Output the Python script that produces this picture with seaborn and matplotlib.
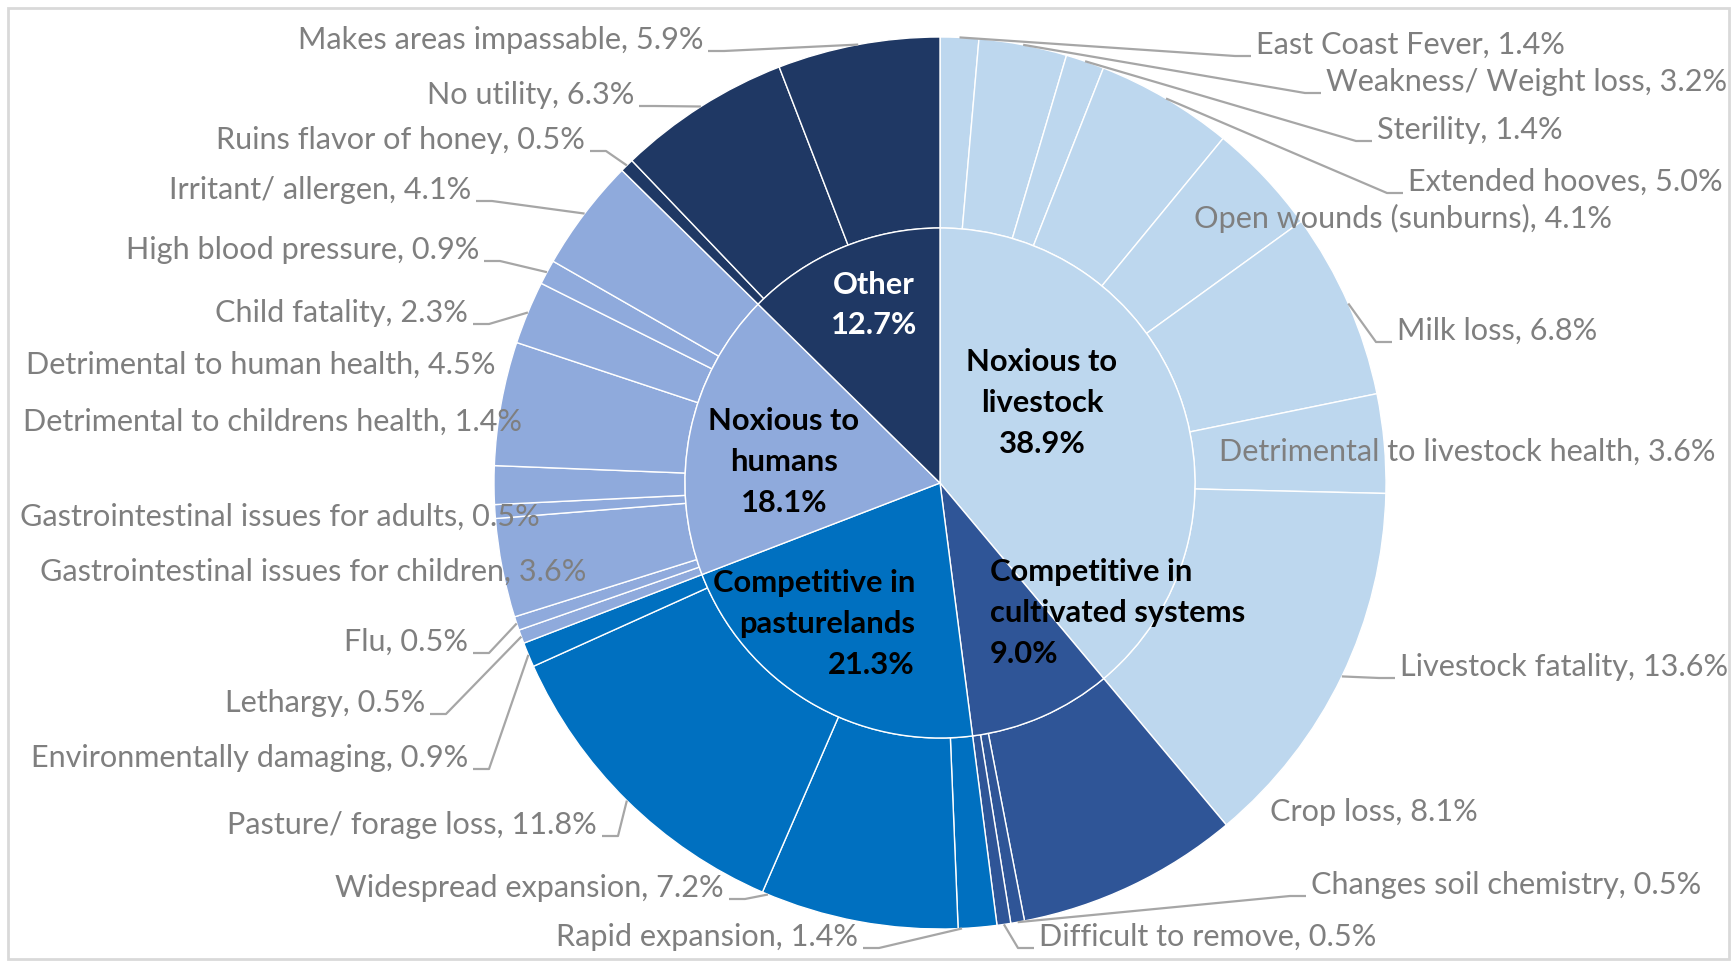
import numpy as np
import pandas as pd
import matplotlib
matplotlib.use("Agg")
import matplotlib.pyplot as plt
from matplotlib.patches import Rectangle
import seaborn as sns

# ---------------- data ----------------
groups = ["Noxious to livestock", "Competitive in cultivated systems",
          "Competitive in pasturelands", "Noxious to humans", "Other"]
group_pct = [38.9, 9.0, 21.3, 18.1, 12.7]
group_lines = [["Noxious to", "livestock"], ["Competitive in", "cultivated systems"],
               ["Competitive in", "pasturelands"], ["Noxious to", "humans"], ["Other"]]

sub_names = [
    "East Coast Fever", "Weakness/ Weight loss", "Sterility", "Extended hooves",
    "Open wounds (sunburns)", "Milk loss", "Detrimental to livestock health", "Livestock fatality",
    "Crop loss", "Changes soil chemistry", "Difficult to remove",
    "Rapid expansion", "Widespread expansion", "Pasture/ forage loss", "Environmentally damaging",
    "Lethargy", "Flu", "Gastrointestinal issues for children", "Gastrointestinal issues for adults",
    "Detrimental to childrens health", "Detrimental to human health", "Child fatality",
    "High blood pressure", "Irritant/ allergen",
    "Ruins flavor of honey", "No utility", "Makes areas impassable",
]
sub_pct = [1.4, 3.2, 1.4, 5.0, 4.1, 6.8, 3.6, 13.6,
           8.1, 0.5, 0.5,
           1.4, 7.2, 11.8, 0.9,
           0.5, 0.5, 3.6, 0.5, 1.4, 4.5, 2.3, 0.9, 4.1,
           0.5, 6.3, 5.9]
sub_group = [0] * 8 + [1] * 3 + [2] * 4 + [3] * 9 + [4] * 3

# ---------------- style / layout ----------------
group_colors = ["#BDD7EE", "#2F5597", "#0070C0", "#8FAADC", "#1F3864"]
group_text_colors = ["black", "black", "black", "black", "white"]

W, H = 1734, 961
CX, CY = 940, 483          # pie centre (pixels, y down)
R_OUT, R_IN = 446, 255

# label layout: (x, y_center, side, leader, anchor fraction)
label_layout = {
    "East Coast Fever": (1256, 45, "R", True, 0.5),
    "Weakness/ Weight loss": (1326, 82, "R", True, 0.5),
    "Sterility": (1377, 130, "R", True, 0.5),
    "Extended hooves": (1408, 182, "R", True, 0.5),
    "Open wounds (sunburns)": (1194, 218, "R", False, 0.5),
    "Milk loss": (1397, 331, "R", True, 0.5),
    "Detrimental to livestock health": (1219, 452, "R", False, 0.5),
    "Livestock fatality": (1400, 667, "R", True, 0.5),
    "Crop loss": (1270, 812, "R", False, 0.5),
    "Changes soil chemistry": (1311, 885, "R", True, 0.5),
    "Difficult to remove": (1039, 937, "R", True, 0.5),
    "Rapid expansion": (858, 937, "L", True, 0.9),
    "Widespread expansion": (724, 888, "L", True, 0.97),
    "Pasture/ forage loss": (597, 825, "L", True, 0.5),
    "Environmentally damaging": (468, 758, "L", True, 0.5),
    "Lethargy": (425, 703, "L", True, 0.5),
    "Flu": (468, 642, "L", True, 0.5),
    "Gastrointestinal issues for children": (586, 572, "L", False, 0.5),
    "Gastrointestinal issues for adults": (540, 517, "L", False, 0.5),
    "Detrimental to childrens health": (522, 422, "L", False, 0.5),
    "Detrimental to human health": (495, 365, "L", False, 0.5),
    "Child fatality": (468, 313, "L", True, 0.5),
    "High blood pressure": (479, 250, "L", True, 0.5),
    "Irritant/ allergen": (471, 190, "L", True, 0.5),
    "Ruins flavor of honey": (585, 140, "L", True, 0.5),
    "No utility": (634, 95, "L", True, 0.5),
    "Makes areas impassable": (703, 40, "L", True, 0.5),
}
inner_layout = [  # (x, y_center, ha)
    (1042, 403, "center"),
    (990, 613, "left"),
    (915, 624, "right"),
    (784, 462, "center"),
    (874, 305, "center"),
]
LINE_STEP = 41

sns.set_theme(style="white")
FONT = ["Lato", "DejaVu Sans"]
plt.rcParams["font.family"] = FONT

def Y(y):
    return H - y

df = pd.DataFrame({"name": sub_names, "pct": sub_pct, "group": sub_group})
inner_vals = df.groupby("group")["pct"].sum().reindex(range(len(groups))).values
total = df["pct"].sum()

fig = plt.figure(figsize=(W / 100, H / 100), dpi=100)
ax = fig.add_axes([0, 0, 1, 1])

outer_colors = [group_colors[g] for g in sub_group]
ax.pie(df["pct"], radius=R_OUT, center=(CX, Y(CY)), startangle=90, counterclock=False,
       colors=outer_colors, normalize=True,
       wedgeprops=dict(width=R_OUT - R_IN, edgecolor="white", linewidth=1.0))
ax.pie(inner_vals, radius=R_IN, center=(CX, Y(CY)), startangle=90, counterclock=False,
       colors=group_colors, normalize=True,
       wedgeprops=dict(edgecolor="white", linewidth=1.0))
ax.set_xlim(0, W)
ax.set_ylim(0, H)
ax.set_aspect("equal")
ax.axis("off")

# fit font sizes to reference widths (average over a few labels)
renderer = fig.canvas.get_renderer()
ratios = []
for s, wref in [("Makes areas impassable, 5.9%", 408),
                ("Detrimental to livestock health, 3.6%", 499),
                ("Gastrointestinal issues for children, 3.6%", 546),
                ("Weakness/ Weight loss, 3.2%", 396)]:
    t = ax.text(0, 0, s, fontsize=20)
    ratios.append(wref / t.get_window_extent(renderer).width)
    t.remove()
fs_out = 20 * float(np.mean(ratios))
t = ax.text(0, 0, "cultivated systems", fontsize=20, fontweight="bold")
fs_in = 20 * 255 / t.get_window_extent(renderer).width
t.remove()

TEXT_GRAY = "#7F7F7F"
LEADER = "#A6A6A6"

cum = np.concatenate([[0], np.cumsum(df["pct"].values)])
for i, name in enumerate(sub_names):
    x, yc, side, leader, frac = label_layout[name]
    ha = "left" if side == "R" else "right"
    ax.text(x, Y(yc), f"{name}, {sub_pct[i]:.1f}%", ha=ha, va="center",
            fontsize=fs_out, color=TEXT_GRAY, zorder=5)
    if leader:
        th = np.deg2rad(360 * (cum[i] + frac * sub_pct[i]) / total)
        px, py = CX + R_OUT * np.sin(th), CY - R_OUT * np.cos(th)
        if side == "R":
            ax_, ay_ = x - 5, yc + 11
            ex = ax_ - 16
        else:
            ax_, ay_ = x + 5, yc + 11
            ex = ax_ + 16
        ax.plot([px, ex, ax_], [Y(py), Y(ay_), Y(ay_)], color=LEADER, lw=1.6,
                solid_capstyle="butt", zorder=4)

for g, (x, yc, ha) in enumerate(inner_layout):
    lines = group_lines[g] + [f"{group_pct[g]:.1f}%"]
    n = len(lines)
    for k, ln in enumerate(lines):
        yy = yc + (k - (n - 1) / 2) * LINE_STEP
        ax.text(x, Y(yy), ln, ha=ha, va="center", fontsize=fs_in, fontweight="bold",
                color=group_text_colors[g], zorder=6)

ax.add_patch(Rectangle((8, Y(959)), 1721, 951, fill=False, edgecolor="#D9D9D9",
                       linewidth=2, zorder=10, clip_on=False))

fig.savefig("out.png", dpi=100, facecolor="white")
